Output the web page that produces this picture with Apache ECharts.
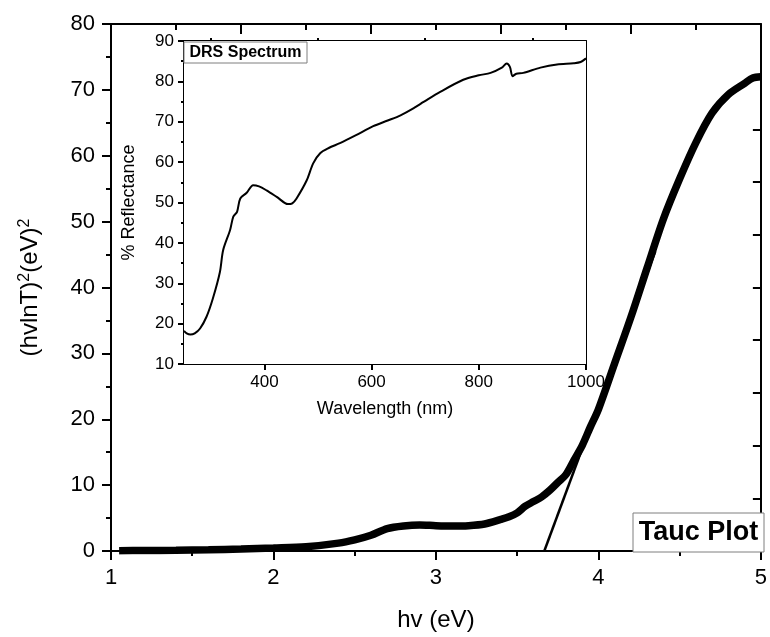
<!DOCTYPE html>
<html>
<head>
<meta charset="utf-8">
<script src="https://cdn.jsdelivr.net/npm/echarts@6/dist/echarts.min.js"></script>
<style>
  html, body { margin: 0; padding: 0; background: #fff; }
  #chart { width: 770px; height: 637px; }
</style>
</head>
<body>
<div id="chart"></div>
<script>
// Tauc plot (main)
var taucX = [1.05, 1.2, 1.4, 1.6, 1.8, 2.0, 2.2, 2.4, 2.5, 2.6, 2.7, 2.8, 2.9, 3.0, 3.1, 3.2, 3.3, 3.4, 3.45, 3.5,
  3.55, 3.6, 3.65, 3.7, 3.75, 3.8, 3.85, 3.9, 3.95, 4.0, 4.1, 4.2, 4.3, 4.4, 4.5, 4.6, 4.7, 4.8, 4.9, 4.95, 5.0]
var taucY = [0.05, 0.07, 0.1, 0.18, 0.3, 0.45, 0.65, 1.2, 1.7, 2.4, 3.4, 3.8, 3.95, 3.85, 3.8, 3.85, 4.1, 4.8, 5.2, 5.8,
  6.8, 7.5, 8.2, 9.2, 10.4, 11.6, 13.8, 16, 18.8, 21.5, 28.5, 35.5, 43, 50.4, 56.5, 62, 66.5, 69.3, 71, 71.8, 72]
// linear fit (band gap extrapolation)
var fitX = [3.667, 4.35]
var fitY = [0, 45.5]

// DRS spectrum (inset)
var drsX = [250, 255, 262, 270, 280, 292, 304, 317, 323, 336, 342, 349, 355, 367, 379, 390, 404, 423, 444, 452,
  460, 479, 491, 504, 520, 541, 570, 603, 630, 654, 680, 697, 728, 771, 800, 822, 843, 852, 858, 863,
  870, 883, 915, 946, 977, 990, 1000]
var drsY = [18.2, 17.6, 17.3, 17.6, 18.8, 21.7, 26.3, 32.8, 38.2, 43.2, 46.5, 47.7, 51, 52.4, 54.3, 54, 53, 51.4, 49.6, 49.8,
  51, 55.5, 59.7, 62.2, 63.5, 64.7, 66.6, 68.9, 70.3, 71.6, 73.5, 74.9, 77.4, 80.4, 81.5, 82.1, 83.4, 84.4, 83.6, 81.3,
  81.9, 82.1, 83.4, 84.2, 84.5, 84.8, 85.7]

// tick positions
var mainTopMajor = [1, 1.8, 2.6, 3.4, 4.2, 5]
var mainTopMinor = [1.4, 2.2, 3.0, 3.8, 4.6]
var insetBottomLabels = [400, 600, 800, 1000]
var insetBottomMinor = [300, 500, 700, 900]
var insetTopMajor = [250, 400, 550, 700, 850, 1000]
var insetTopMinor = [325, 475, 625, 775, 925]
var insetRightTicks = [18, 26, 34, 42, 50, 58, 66, 74, 82, 90]

function zip(a, b) {
  return a.map(function (v, i) { return [v, b[i]] })
}

var FONT = '"Liberation Sans", Arial, sans-serif'
var line2 = { show: true, lineStyle: { color: '#000', width: 2 } }
var noSplit = { show: false }
var plain = function (v) { return String(v) }

var myChart = echarts.init(document.getElementById('chart'))
myChart.setOption({
  animation: false,
  backgroundColor: '#fff',
  textStyle: { fontFamily: FONT },
  grid: [
    { left: 111, right: 4, top: 24, bottom: 84 },
    { left: 184, right: 184, top: 41, bottom: 273, show: true, backgroundColor: '#fff', borderWidth: 0, z: 3 }
  ],
  xAxis: [
    {
      gridIndex: 0, type: 'value', min: 1, max: 5, interval: 1,
      name: 'hv (eV)', nameLocation: 'middle', nameGap: 57,
      nameTextStyle: { fontSize: 24, color: '#000', fontFamily: FONT },
      axisLine: Object.assign({ onZero: false }, line2),
      axisTick: { show: true, inside: false, length: 9, lineStyle: { width: 2, color: '#000' } },
      minorTick: { show: true, splitNumber: 2, length: 5, lineStyle: { width: 2, color: '#000' } },
      axisLabel: { fontSize: 22, color: '#000', margin: 16, fontFamily: FONT, formatter: plain },
      splitLine: noSplit
    },
    {
      gridIndex: 0, type: 'value', position: 'top', min: 1, max: 5,
      axisLine: Object.assign({ onZero: false }, line2),
      axisTick: { show: true, inside: true, length: 10, customValues: mainTopMajor, lineStyle: { width: 2, color: '#000' } },
      axisLabel: { show: false },
      splitLine: noSplit
    },
    {
      gridIndex: 0, type: 'value', position: 'top', min: 1, max: 5,
      axisLine: { show: false, onZero: false },
      axisTick: { show: true, inside: true, length: 6, customValues: mainTopMinor, lineStyle: { width: 2, color: '#000' } },
      axisLabel: { show: false },
      splitLine: noSplit
    },
    {
      gridIndex: 1, type: 'value', min: 250, max: 1000,
      name: 'Wavelength (nm)', nameLocation: 'middle', nameGap: 36,
      nameTextStyle: { fontSize: 18, color: '#000', fontFamily: FONT },
      axisLine: Object.assign({ onZero: false }, line2),
      axisTick: { show: true, inside: false, length: 6, customValues: insetBottomLabels, lineStyle: { width: 2, color: '#000' } },
      axisLabel: { fontSize: 17, color: '#000', margin: 10, customValues: insetBottomLabels, fontFamily: FONT, formatter: plain },
      splitLine: noSplit
    },
    {
      gridIndex: 1, type: 'value', min: 250, max: 1000,
      axisLine: { show: false, onZero: false },
      axisTick: { show: true, inside: false, length: 3, customValues: insetBottomMinor, lineStyle: { width: 2, color: '#000' } },
      axisLabel: { show: false },
      splitLine: noSplit
    },
    {
      gridIndex: 1, type: 'value', position: 'top', min: 250, max: 1000,
      axisLine: Object.assign({ onZero: false }, line2),
      axisTick: { show: true, inside: true, length: 6, customValues: insetTopMajor, lineStyle: { width: 2, color: '#000' } },
      axisLabel: { show: false },
      splitLine: noSplit
    },
    {
      gridIndex: 1, type: 'value', position: 'top', min: 250, max: 1000,
      axisLine: { show: false, onZero: false },
      axisTick: { show: true, inside: true, length: 3, customValues: insetTopMinor, lineStyle: { width: 2, color: '#000' } },
      axisLabel: { show: false },
      splitLine: noSplit
    }
  ],
  yAxis: [
    {
      gridIndex: 0, type: 'value', min: 0, max: 80, interval: 10,
      name: '(hvlnT){s|2}(eV){s|2}', nameLocation: 'middle', nameGap: 68, nameRotate: 90,
      nameTextStyle: {
        fontSize: 24, color: '#000', fontFamily: FONT,
        rich: { s: { fontSize: 16, color: '#000', fontFamily: FONT, verticalAlign: 'top', padding: [0, 0, 10, 0] } }
      },
      axisLine: Object.assign({ onZero: false }, line2),
      axisTick: { show: true, inside: false, length: 9, lineStyle: { width: 2, color: '#000' } },
      minorTick: { show: true, splitNumber: 2, length: 5, lineStyle: { width: 2, color: '#000' } },
      axisLabel: { fontSize: 22, color: '#000', margin: 16, fontFamily: FONT },
      splitLine: noSplit
    },
    {
      gridIndex: 0, type: 'value', position: 'right', min: 0, max: 80, interval: 8,
      axisLine: Object.assign({ onZero: false }, line2),
      axisTick: { show: true, inside: true, length: 8, lineStyle: { width: 2, color: '#000' } },
      axisLabel: { show: false },
      splitLine: noSplit
    },
    {
      gridIndex: 1, type: 'value', min: 10, max: 90, interval: 10,
      name: '% Reflectance', nameLocation: 'middle', nameGap: 46, nameRotate: 90,
      nameTextStyle: { fontSize: 18, color: '#000', fontFamily: FONT },
      axisLine: Object.assign({ onZero: false }, line2),
      axisTick: { show: true, inside: false, length: 6, lineStyle: { width: 2, color: '#000' } },
      minorTick: { show: true, splitNumber: 2, length: 3, lineStyle: { width: 2, color: '#000' } },
      axisLabel: { fontSize: 17, color: '#000', margin: 10, fontFamily: FONT },
      splitLine: noSplit
    },
    {
      gridIndex: 1, type: 'value', position: 'right', min: 10, max: 90,
      axisLine: Object.assign({ onZero: false }, line2),
      axisTick: { show: true, inside: true, length: 4, customValues: insetRightTicks, lineStyle: { width: 2, color: '#000' } },
      axisLabel: { show: false },
      splitLine: noSplit
    }
  ],
  series: [
    {
      name: 'Tauc', type: 'line', xAxisIndex: 0, yAxisIndex: 0,
      data: zip(taucX, taucY), smooth: 0.3, showSymbol: false, symbol: 'none',
      lineStyle: { color: '#000', width: 7.5 }, z: 2
    },
    {
      name: 'fit', type: 'line', xAxisIndex: 0, yAxisIndex: 0,
      data: zip(fitX, fitY), showSymbol: false, symbol: 'none',
      lineStyle: { color: '#000', width: 2.5 }, z: 2
    },
    {
      name: 'DRS', type: 'line', xAxisIndex: 3, yAxisIndex: 2,
      data: zip(drsX, drsY), smooth: 0.3, showSymbol: false, symbol: 'none',
      lineStyle: { color: '#000', width: 2 }, z: 5
    }
  ],
  graphic: [
    {
      type: 'rect', z: 100, shape: { x: 633, y: 513, width: 131, height: 39 },
      style: { fill: '#fff', stroke: '#7f7f7f', lineWidth: 1 }
    },
    {
      type: 'text', z: 101, x: 698.5, y: 533,
      style: { text: 'Tauc Plot', fill: '#000', font: 'bold 27px ' + FONT, align: 'center', verticalAlign: 'middle' }
    },
    {
      type: 'rect', z: 100, shape: { x: 184, y: 42, width: 123, height: 21 },
      style: { fill: '#fff', stroke: '#7f7f7f', lineWidth: 1 }
    },
    {
      type: 'text', z: 101, x: 245.5, y: 53,
      style: { text: 'DRS Spectrum', fill: '#000', font: 'bold 16px ' + FONT, align: 'center', verticalAlign: 'middle' }
    }
  ]
})
</script>
</body>
</html>
